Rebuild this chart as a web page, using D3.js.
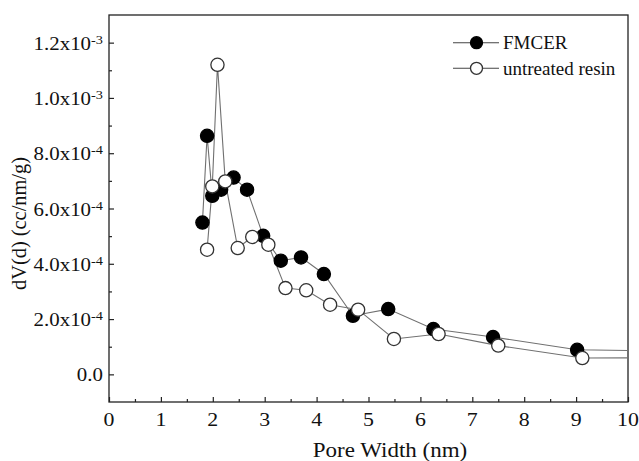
<!DOCTYPE html>
<html>
<head>
<meta charset="utf-8">
<script src="https://cdn.jsdelivr.net/npm/d3@7"></script>
<style>
  html, body { margin: 0; padding: 0; background: #fff; }
  svg { display: block; }
  text { font-family: "Liberation Serif", "Times New Roman", serif; fill: #111; }
</style>
</head>
<body>
<svg id="chart" width="639" height="461"></svg>
<script>
// Pore width (nm) and differential pore volume dV(d) (cc/nm/g)
const fmcerWidth = [1.80, 1.89, 1.99, 2.16, 2.40, 2.66, 2.97, 3.31, 3.70, 4.14, 4.70, 5.38, 6.25, 7.40, 9.02, 11.0];
const fmcerDV    = [5.49e-4, 8.63e-4, 6.46e-4, 6.68e-4, 7.12e-4, 6.68e-4, 5.01e-4, 4.11e-4, 4.23e-4, 3.63e-4, 2.12e-4, 2.36e-4, 1.64e-4, 1.35e-4, 0.89e-4, 0.84e-4];
const resinWidth = [1.89, 1.99, 2.09, 2.24, 2.48, 2.76, 3.07, 3.40, 3.80, 4.26, 4.80, 5.49, 6.35, 7.50, 9.12, 11.0];
const resinDV    = [4.51e-4, 6.80e-4, 1.12e-3, 6.98e-4, 4.57e-4, 4.97e-4, 4.69e-4, 3.12e-4, 3.04e-4, 2.52e-4, 2.34e-4, 1.28e-4, 1.46e-4, 1.04e-4, 0.59e-4, 0.60e-4];

const seriesNames = ["FMCER", "untreated resin"];

const xTicks = [0, 1, 2, 3, 4, 5, 6, 7, 8, 9, 10];
const xTickLabels = ["0", "1", "2", "3", "4", "5", "6", "7", "8", "9", "10"];
const xMinorTicks = [0.5, 1.5, 2.5, 3.5, 4.5, 5.5, 6.5, 7.5, 8.5, 9.5];
const yTicks = [0, 2e-4, 4e-4, 6e-4, 8e-4, 1.0e-3, 1.2e-3];
const yTickMantissa = ["0.0", "2.0", "4.0", "6.0", "8.0", "1.0", "1.2"];
const yTickExponent = ["", "-4", "-4", "-4", "-4", "-3", "-3"];
const yMinorTicks = [1e-4, 3e-4, 5e-4, 7e-4, 9e-4, 1.1e-3];

const xTitle = "Pore Width (nm)";
const yTitle = "dV(d) (cc/nm/g)";

const svg = d3.select("#chart");
const plotLeft = 109, plotRight = 628, plotTop = 15, plotBottom = 402;

const x = d3.scaleLinear().domain([0, 10]).range([plotLeft, plotRight]);
const y = d3.scaleLinear().domain([-1e-4, 1.3e-3]).range([plotBottom, plotTop]);

// text placed at (px, py) and widened horizontally by sx
function wideText(parent, px, py, sx, anchor, size) {
  return parent.append("text")
    .attr("transform", `translate(${px},${py}) scale(${sx},1)`)
    .attr("text-anchor", anchor)
    .attr("font-size", size);
}

// clip region for data marks
svg.append("defs").append("clipPath").attr("id", "plotClip")
  .append("rect").attr("x", plotLeft).attr("y", plotTop)
  .attr("width", plotRight - plotLeft).attr("height", plotBottom - plotTop);

// frame
svg.append("rect")
  .attr("x", plotLeft).attr("y", plotTop)
  .attr("width", plotRight - plotLeft).attr("height", plotBottom - plotTop)
  .attr("fill", "none").attr("stroke", "#222").attr("stroke-width", 1.3);

// x axis ticks (inward)
const xAxis = svg.append("g").attr("transform", `translate(0,${plotBottom})`)
  .call(d3.axisBottom(x).tickValues(xTicks).tickSize(-5).tickFormat(""));
xAxis.select(".domain").remove();
xAxis.selectAll("line").attr("stroke", "#222").attr("stroke-width", 1.2);
xAxis.selectAll("text").remove();

const xMinor = svg.append("g").attr("transform", `translate(0,${plotBottom})`)
  .call(d3.axisBottom(x).tickValues(xMinorTicks).tickSize(-3).tickFormat(""));
xMinor.select(".domain").remove();
xMinor.selectAll("line").attr("stroke", "#222").attr("stroke-width", 1.2);

const xLabels = svg.append("g");
xTicks.forEach((v, i) => {
  wideText(xLabels, x(v), plotBottom + 23.5, 1.15, "middle", 19).text(xTickLabels[i]);
});

// y axis ticks (inward)
const yAxis = svg.append("g").attr("transform", `translate(${plotLeft},0)`)
  .call(d3.axisLeft(y).tickValues(yTicks).tickSize(-5).tickFormat(""));
yAxis.select(".domain").remove();
yAxis.selectAll("line").attr("stroke", "#222").attr("stroke-width", 1.2);
yAxis.selectAll("text").remove();

const yMinor = svg.append("g").attr("transform", `translate(${plotLeft},0)`)
  .call(d3.axisLeft(y).tickValues(yMinorTicks).tickSize(-3).tickFormat(""));
yMinor.select(".domain").remove();
yMinor.selectAll("line").attr("stroke", "#222").attr("stroke-width", 1.2);

// y tick labels in scientific notation with superscript exponent
const yLabels = svg.append("g");
yTicks.forEach((v, i) => {
  const t = wideText(yLabels, plotLeft - 6, y(v) + 7, 1.1, "end", 19);
  if (yTickExponent[i]) {
    t.append("tspan").text(yTickMantissa[i] + "x10");
    t.append("tspan").attr("font-size", 13).attr("dy", -6).text(yTickExponent[i]);
  } else {
    t.append("tspan").text(yTickMantissa[i]);
  }
});

// axis titles
wideText(svg, 390, 457, 1.15, "middle", 20).text(xTitle);
svg.append("text")
  .attr("transform", `translate(25.5,223.5) rotate(-90)`)
  .attr("text-anchor", "middle").attr("font-size", 20.4)
  .text(yTitle);

// series
const series = [
  { name: seriesNames[0], xs: fmcerWidth, ys: fmcerDV, fill: "#000", stroke: "#000", line: "#707070" },
  { name: seriesNames[1], xs: resinWidth, ys: resinDV, fill: "#fff", stroke: "#333", line: "#707070" }
];

const line = d3.line().x(d => x(d[0])).y(d => y(d[1]));
const plot = svg.append("g").attr("clip-path", "url(#plotClip)");

series.forEach(s => {
  const pts = s.xs.map((v, i) => [v, s.ys[i]]);
  plot.append("path").datum(pts)
    .attr("d", line).attr("fill", "none")
    .attr("stroke", s.line).attr("stroke-width", 1.1);
});
series.forEach(s => {
  const pts = s.xs.map((v, i) => [v, s.ys[i]]);
  plot.append("g").selectAll("circle").data(pts).join("circle")
    .attr("cx", d => x(d[0])).attr("cy", d => y(d[1])).attr("r", 6.6)
    .attr("fill", s.fill).attr("stroke", s.stroke).attr("stroke-width", 1.3);
});

// legend
const legend = svg.append("g");
series.forEach((s, i) => {
  const cy = 42.7 + i * 25.6;
  legend.append("line")
    .attr("x1", 453).attr("x2", 499).attr("y1", cy).attr("y2", cy)
    .attr("stroke", "#444").attr("stroke-width", 1.1);
  legend.append("circle")
    .attr("cx", 476.5).attr("cy", cy).attr("r", 6)
    .attr("fill", s.fill).attr("stroke", s.stroke).attr("stroke-width", 1.3);
  legend.append("text")
    .attr("x", 503).attr("y", cy + 6.6)
    .attr("font-size", 19)
    .text(s.name);
});
</script>
</body>
</html>
